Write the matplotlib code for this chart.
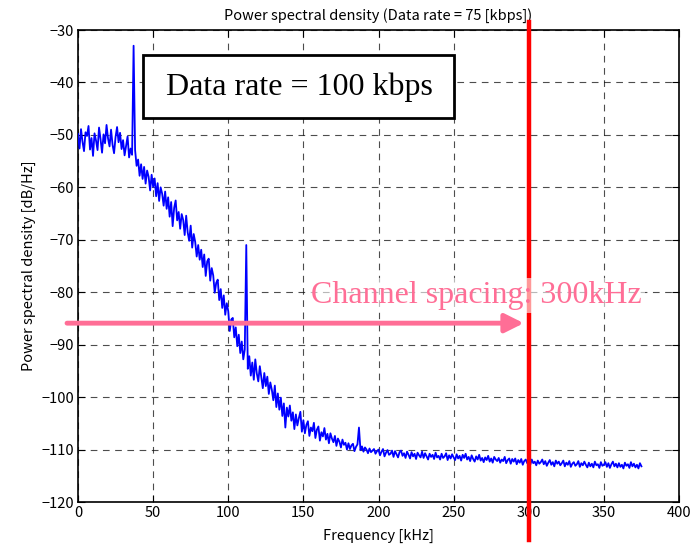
import numpy as np
import matplotlib
matplotlib.use("Agg")
import matplotlib.pyplot as plt
from matplotlib.patches import Rectangle

# frequency axis, 1 kHz steps from 0 to 375 kHz
freq_khz = np.arange(0, 376)

psd_db = [
    -49.8, -52.6, -48.9, -51.3, -53.1, -49.5, -50.2, -48.3, -52.8, -50.6,
    -54.0, -49.7, -51.1, -52.9, -48.6, -50.8, -53.4, -49.9, -51.6, -48.1,
    -50.7, -52.2, -49.0, -51.9, -53.5, -50.4, -48.5, -51.4, -49.6, -52.7,
    -51.0, -53.9, -52.1, -50.3, -54.3, -52.6, -53.8,
    -33.0,
    -52.9, -55.9,
    -54.7, -57.8, -55.6, -58.4, -56.1, -59.3, -56.8, -58.0, -60.6, -57.6,
    -59.9, -58.3, -61.7, -59.2, -62.6, -60.0, -61.2, -63.5, -60.8, -64.1,
    -61.9, -65.6, -62.8, -67.4, -63.9, -62.5, -66.3, -64.7, -67.9, -65.1,
    -66.2, -69.1, -65.4, -68.6, -70.2, -67.3, -71.5, -68.9, -70.4, -73.2,
    -71.0, -73.8, -71.9, -75.2, -72.8, -76.9, -74.1, -73.6, -77.8, -75.4,
    -76.8, -80.1, -78.2, -77.6, -81.5, -79.4, -83.0, -80.6, -84.3, -82.1,
    -83.6, -87.4, -85.2, -84.9, -88.6, -86.7, -90.3, -88.1, -91.6, -89.4, -92.8, -90.9,
    -71.0,
    -94.6, -92.2, -95.9, -93.4, -96.7, -92.8, -95.5,
    -97.0, -94.1, -96.2, -98.3, -95.4, -97.9, -96.1, -99.4, -97.2, -98.6,
    -100.6, -97.8, -101.9, -99.3, -102.4, -100.1, -103.6, -101.2, -105.8, -102.0,
    -103.7, -101.6, -104.5, -102.9, -106.1, -103.3, -105.4, -104.0, -102.8, -106.6,
    -104.4, -106.9, -105.3, -104.6, -107.4, -105.8, -106.5, -104.9, -107.8, -106.2,
    -105.6, -108.3, -106.7, -107.5, -105.9, -108.1, -107.0, -108.8, -106.9, -107.9,
    -108.6, -107.4, -109.3, -107.9, -108.5, -109.6, -108.1, -109.1, -108.7, -110.0,
    -108.8, -109.9, -109.2, -108.9, -110.3, -109.5, -109.0, -105.8, -110.1, -109.4,
    -110.4, -109.6, -110.0, -110.7, -109.8, -110.5, -110.2, -109.9, -110.8, -110.3,
    -110.0, -111.1, -110.4, -109.9, -111.3, -110.6, -110.1, -111.0, -110.8, -110.2,
    -111.4, -110.3, -110.9, -111.5, -110.5, -110.2, -111.2, -110.7, -111.6, -110.4,
    -111.0, -111.7, -110.5, -111.3, -110.8, -111.8, -110.6, -111.1, -111.5, -110.4,
    -111.6, -110.7, -111.3, -111.9, -110.8, -111.4, -111.0, -111.8, -110.6, -111.5,
    -111.2, -111.9, -110.8, -111.6, -111.3, -110.7, -112.0, -111.1, -111.7, -110.9,
    -111.5, -112.0, -110.9, -111.7, -111.2, -112.1, -111.0, -111.6, -110.8, -111.9,
    -111.4, -112.2, -111.1, -111.8, -112.3, -111.3, -111.9, -111.0, -112.1, -111.6,
    -112.4, -111.5, -112.0, -111.2, -112.3, -111.7, -112.5, -111.4, -111.9, -112.2,
    -111.6, -112.5, -111.9, -112.2, -111.4, -112.6, -112.0, -111.7, -112.7, -111.8,
    -112.3, -111.7, -112.8, -112.0, -112.5, -111.8, -112.9, -112.2, -111.9, -112.6,
    -112.2, -112.9, -111.9, -112.6, -112.3, -113.0, -112.1, -112.7, -112.4, -111.9,
    -112.8, -112.2, -113.1, -112.5, -112.0, -112.9, -112.4, -113.2, -112.1, -112.7,
    -112.3, -113.0, -112.6, -112.1, -113.2, -112.5, -112.9, -112.2, -113.3, -112.7,
    -112.4, -113.1, -112.8, -112.2, -113.3, -112.6, -113.0, -112.3, -112.9, -113.4,
    -112.5, -113.2, -112.7, -113.4, -112.3, -113.0, -112.8, -113.5, -112.4, -113.1,
    -112.9, -112.4, -113.3, -112.6, -113.5, -112.8, -112.3, -113.2, -112.7, -113.4,
    -112.6, -113.3, -112.9, -113.6, -112.5, -113.1, -112.8, -113.5, -112.4, -113.2,
    -112.7, -113.4, -112.9, -113.6, -112.6, -113.2,
]

channel_spacing_khz = 300
arrow_level_db = -85.9
x_ticks = [0, 50, 100, 150, 200, 250, 300, 350, 400]
y_ticks = [-120, -110, -100, -90, -80, -70, -60, -50, -40, -30]

title_text = "Power spectral density (Data rate = 75 [kbps])"
xlabel_text = "Frequency [kHz]"
ylabel_text = "Power spectral density [dB/Hz]"
box_text = "Data rate = 100 kbps"
spacing_text = "Channel spacing: 300kHz"

ui_font = ["Noto Sans CJK JP", "DejaVu Sans"]
serif_font = ["Liberation Serif", "DejaVu Serif"]
pink = "#ff6e96"

fig = plt.figure(figsize=(6.97, 5.5), dpi=100)
ax = fig.add_axes([78/697, 1-502/550, (679-78)/697, (502-30)/550])

ax.plot(freq_khz, psd_db, color="#0000ff", lw=1.3, zorder=3)

ax.set_xlim(0, 400)
ax.set_ylim(-120, -30)
ax.set_xticks(x_ticks)
ax.set_yticks(y_ticks)
ax.set_xticklabels([str(v) for v in x_ticks], family=ui_font, fontsize=10.5)
ax.set_yticklabels([str(v).replace("-", "\u2212") for v in y_ticks], family=ui_font, fontsize=10.5)
ax.tick_params(direction="in", top=True, right=True, length=5, width=0.8, pad=3)
ax.grid(True, color="#111111", linestyle=(0, (6, 5)), lw=0.8, alpha=0.75)
for s in ax.spines.values():
    s.set_linewidth(1.2)

ax.set_title(title_text, family=ui_font, fontsize=10.5, pad=7)
ax.set_xlabel(xlabel_text, family=ui_font, fontsize=10.5, labelpad=6)
ax.set_ylabel(ylabel_text, family=ui_font, fontsize=10.5, labelpad=4)

# red channel-spacing line extending beyond the axes
ax.axvline(channel_spacing_khz, ymin=-0.08, ymax=1.017, color="#ff0000", lw=3.2,
           clip_on=False, zorder=5)

# pink arrow
ax.annotate("", xy=(channel_spacing_khz - 3.3, arrow_level_db), xytext=(-7.3, arrow_level_db),
            arrowprops=dict(arrowstyle="-|>", color=pink, lw=3.5, mutation_scale=28,
                            shrinkA=0, shrinkB=0),
            annotation_clip=False, zorder=6)

ax.text(265.3, -80.6, spacing_text, family=serif_font, fontsize=23, color=pink,
        ha="center", va="center", zorder=7,
        bbox=dict(facecolor="white", edgecolor="none", alpha=0.6, pad=2))

# annotation box
ax.add_patch(Rectangle((43.3, -46.8), 206.7, 12.0, facecolor="white", edgecolor="black",
                       lw=2, zorder=7))
ax.text(147.3, -40.9, box_text, family=serif_font, fontsize=23, color="black",
        ha="center", va="center", zorder=8)

fig.savefig("out.png", dpi=100)
